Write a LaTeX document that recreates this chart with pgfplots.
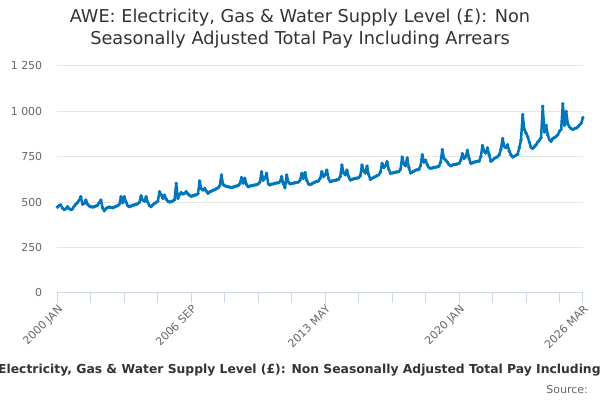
\documentclass[border=0pt]{standalone}
\usepackage{fontspec}
\setmainfont{DejaVu Sans}
\usepackage{pgfplots}
\pgfplotsset{compat=1.18}
\usepackage{pgfplotstable}
\definecolor{lineblue}{RGB}{0,118,189}
\definecolor{gridgrey}{RGB}{230,230,230}
\definecolor{axisblue}{RGB}{204,214,235}
\definecolor{labgrey}{RGB}{102,102,102}
\definecolor{titlegrey}{RGB}{51,51,51}

\pgfplotstableread{
v
472
480
484
466
458
462
474
464
458
462
476
488
496
510
529
488
492
511
488
478
474
472
474
478
482
496
511
468
452
462
470
472
470
468
472
476
480
486
529
496
529
500
480
474
478
482
484
488
490
498
534
510
504
529
498
480
474
484
492
498
504
557
540
520
538
516
504
500
502
506
512
603
520
540
552
544
548
557
545
536
532
534
538
540
546
616
572
566
575
560
548
556
560
565
568
574
578
590
649
598
590
586
584
582
580
582
586
588
590
600
635
604
631
596
584
588
590
592
594
596
600
610
667
620
630
658
600
594
598
600
603
605
606
612
640
600
578
649
610
600
602
604
606
608
610
620
658
630
662
620
600
596
600
606
610
614
616
630
667
640
650
676
630
612
615
618
620
622
625
640
704
660
650
676
640
621
624
628
630
632
634
645
704
670
660
698
650
625
630
636
640
645
650
665
713
690
700
722
680
658
660
662
664
666
668
680
748
710
700
743
690
660
665
670
675
678
680
700
761
720
731
705
690
685
688
690
692
694
698
720
789
740
731
720
706
700
704
706
708
710
712
730
767
740
750
785
740
713
716
720
722
724
726
750
812
780
770
798
760
725
730
740
745
750
760
790
850
805
800
816
780
760
748
752
758
763
800
842
982
900
880
860
830
800
795
805
815
830
840
855
1028
886
923
870
844
835
850
855
862
870
890
900
1041
923
1000
930
914
905
900
905
908
914
925
935
965
}\awe

\begin{document}
\begin{tikzpicture}
\path[use as bounding box] (0bp,0bp) rectangle (600bp,400bp);
\node[font=\fontsize{17.8}{22}\selectfont, text=titlegrey, align=center] at (300bp,371bp)
  {AWE: Electricity, Gas \& Water Supply Level (£): Non\\Seasonally Adjusted Total Pay Including Arrears};
\begin{axis}[
  at={(57.4bp,107.3bp)}, anchor=south west,
  scale only axis, width=525.5bp, height=226.7bp,
  xmin=0, xmax=314, ymin=0, ymax=1250,
  axis lines*=left,
  x axis line style={-, draw=axisblue, line width=1bp},
  y axis line style={draw=none},
  ymajorgrids, major grid style={draw=gridgrey, line width=1bp},
  ytick={0,250,500,750,1000,1250},
  yticklabels={0,250,500,750,1 000,1 250},
  xtick={0,20,...,300,314},
  xticklabels={2000 JAN,,,,2006 SEP,,,,2013 MAY,,,,2020 JAN,,,,2026 MAR},
  tick align=outside,
  major tick length=10bp,
  xtick style={draw=axisblue, line width=1bp},
  ytick style={draw=none},
  yticklabel style={font=\fontsize{11}{13}\selectfont, text=labgrey, anchor=east, inner sep=0pt, xshift=-5bp},
  xticklabel style={font=\fontsize{11}{13}\selectfont, text=labgrey, rotate=45, anchor=north east, inner sep=1bp},
  clip=false,
]
\addplot[lineblue, line width=2.5bp, line join=round, mark=*, mark size=1.5bp,
  mark options={draw=lineblue, fill=lineblue, line width=0.5bp}]
  table[x expr=\coordindex, y=v] {\awe};
\end{axis}
\node[anchor=base west, inner sep=0pt, font=\bfseries\fontsize{12.4}{14}\selectfont, text=titlegrey] at (-2bp,27bp)
  {\llap{AWE: }Electricity, Gas \& Water Supply Level (£): Non Seasonally Adjusted Total Pay Including Arrears};
\node[anchor=base east, inner sep=0pt, font=\fontsize{11}{13}\selectfont, text=labgrey] at (588bp,7bp) {Source:};
\end{tikzpicture}
\end{document}
